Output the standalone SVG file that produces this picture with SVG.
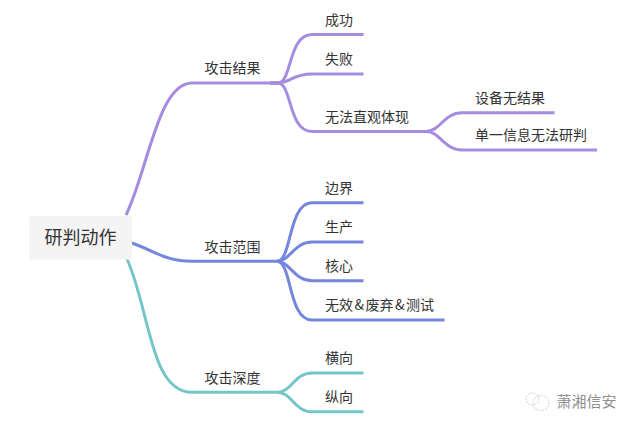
<svg xmlns="http://www.w3.org/2000/svg" width="636" height="429" viewBox="0 0 636 429">
<style>
.c{fill:none;stroke-width:3;stroke-linecap:butt}
.p{stroke:#a68ce0}
.b{stroke:#7586dd}
.t{stroke:#75c6c8}
text{font-family:"Noto Sans CJK SC","Noto Sans",sans-serif;font-size:14px;fill:#333}
</style>
<rect width="636" height="429" fill="#fff"/>
<g id="connectors">
<path class="c p" d="M126 215C148 170 158 83 192 83H278"/>
<path class="c p" d="M270 83H278C292 83 288 34.5 312 34.5H363.500"/>
<path class="c p" d="M270 83H278C290 83 292 74 312 74H363.500"/>
<path class="c p" d="M270 83H278C292 83 288 131.500 312 131.500H426C440 131.500 444 112.700 462 112.700H554.500"/>
<path class="c p" d="M426 131.500C440 131.500 444 150 462 150H597"/>
<path class="c b" d="M132 243C155 251 165 261.300 192 261.300H277"/>
<path class="c b" d="M277 261.300C292 261.300 288 202.700 312 202.700H363.500"/>
<path class="c b" d="M277 261.300C290 261.300 294 242 312 242H363.500"/>
<path class="c b" d="M277 261.300C290 261.300 294 280.700 312 280.700H363.500"/>
<path class="c b" d="M277 261.300C292 261.300 288 320 312 320H444.500"/>
<path class="c t" d="M127 259C150 310 150 392.300 192 392.300H277"/>
<path class="c t" d="M277 392.300C292 392.300 294 373 312 373H363.500"/>
<path class="c t" d="M277 392.300C292 392.300 294 411.700 312 411.700H363.500"/>
</g>
<g id="root"><rect x="29" y="216" width="103" height="43.500" rx="3" fill="#f4f4f4"/><text x="44.500" y="244" style="font-size:18px">研判动作</text></g>
<g id="n1"><text x="204.500" y="73">攻击结果</text></g>
<g id="n2"><text x="325" y="25">成功</text></g>
<g id="n3"><text x="325" y="64">失败</text></g>
<g id="n4"><text x="325" y="122">无法直观体现</text></g>
<g id="n5"><text x="475" y="103">设备无结果</text></g>
<g id="n6"><text x="475" y="140">单一信息无法研判</text></g>
<g id="n7"><text x="204.500" y="252">攻击范围</text></g>
<g id="n8"><text x="325" y="193">边界</text></g>
<g id="n9"><text x="325" y="232">生产</text></g>
<g id="n10"><text x="325" y="271">核心</text></g>
<g id="n11"><text x="325" y="310">无效<tspan dx="1.500">&amp;</tspan><tspan dx="1.500">废弃</tspan><tspan dx="1.500">&amp;</tspan><tspan dx="1.500">测试</tspan></text></g>
<g id="n12"><text x="204.500" y="383">攻击深度</text></g>
<g id="n13"><text x="325" y="363">横向</text></g>
<g id="n14"><text x="325" y="402">纵向</text></g>
<g id="watermark">
<g fill="none" stroke="#c4c4c4" stroke-width="1" stroke-dasharray="1.500 1.500">
<ellipse cx="532.500" cy="399" rx="6.500" ry="6"/>
<ellipse cx="541" cy="403" rx="8" ry="7.500"/>
</g>
<text x="556.500" y="407" style="font-size:15px;fill:#8f8f8f">萧湘信安</text>
</g>
</svg>
